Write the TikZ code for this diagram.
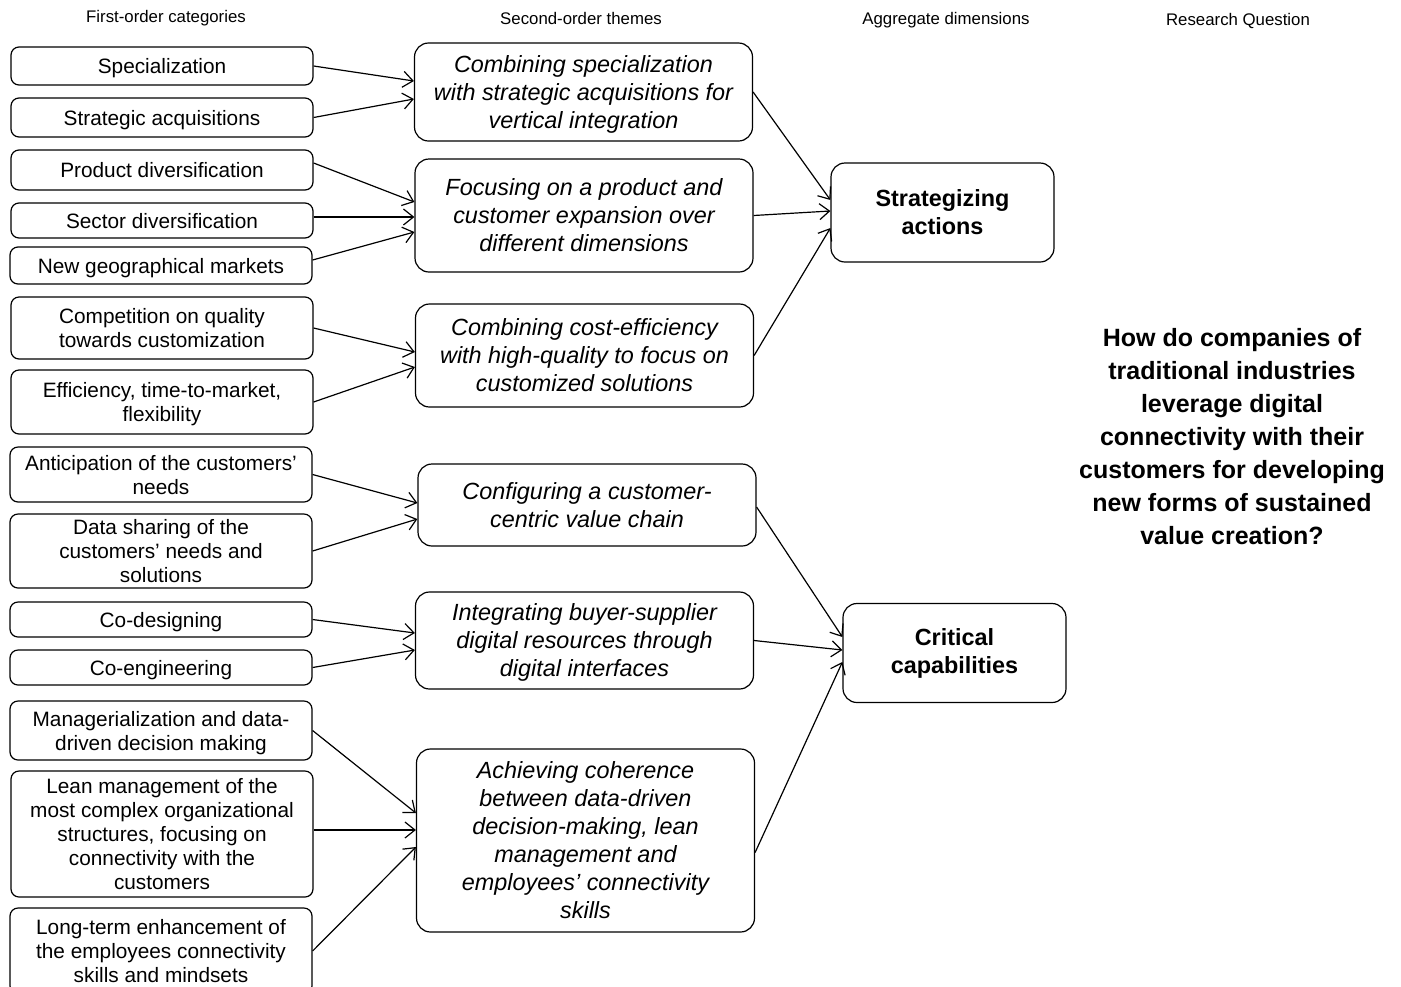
\documentclass[tikz,border=0pt]{standalone}
\usepackage{fontspec}
\setmainfont{Liberation Sans}
\usetikzlibrary{arrows.meta}

\begin{document}
\begin{tikzpicture}[
    x=0.5pt, y=-0.5pt, % one unit = one pixel of the layout, y downwards
    >={Straight Barb[length=5pt,width=8pt]}, % open arrow tips
    line width=0.6pt,
    head/.style={font=\fontsize{8.4}{10}\selectfont}, % column titles
    catbox/.style={draw, rounded corners=4pt, minimum width=151pt, inner sep=0pt, text depth=0pt,
        align=center, font=\fontsize{10.4}{12}\selectfont}, % first-order boxes
    themebox/.style={draw, rounded corners=7pt, minimum width=169pt, inner sep=0pt, text depth=0pt,
        align=center, font=\fontsize{11.7}{14}\selectfont\itshape}, % second-order boxes
    dimbox/.style={draw, rounded corners=7pt, minimum width=111.5pt, minimum height=49.5pt,
        inner sep=0pt, align=center, font=\fontsize{11.7}{14}\selectfont\bfseries}, % dimensions
    question/.style={align=center, font=\fontsize{12.5}{16.5}\selectfont\bfseries}
]

    \useasboundingbox (0,0) rectangle (1401,986);

    % Column titles
    \node[head] (h1) at (166,18) {First-order categories};
    \node[head] (h2) at (581,18) {Second-order themes};
    \node[head] (h3) at (946,20) {Aggregate dimensions};
    \node[head] (h4) at (1238,21) {Research Question};

    % First-order categories
    \node[catbox, minimum height=19pt]   (spec)  at (162,66)    {Specialization};
    \node[catbox, minimum height=19.5pt] (acq)   at (162,117.5) {Strategic acquisitions};
    \node[catbox, minimum height=20pt]   (prod)  at (162,170)   {Product diversification};
    \node[catbox, minimum height=17.5pt] (sect)  at (162,220.5) {Sector diversification};
    \node[catbox, minimum height=18.5pt] (geo)   at (161,265.5) {New geographical markets};
    \node[catbox, minimum height=31pt]   (qual)  at (162,328)   {Competition on quality\\towards customization};
    \node[catbox, minimum height=32pt]   (effi)  at (162,402)   {Efficiency, time-to-market,\\flexibility};
    \node[catbox, minimum height=27.5pt] (anti)  at (161,474.5) {Anticipation of the customers’\\needs};
    \node[catbox, minimum height=37pt]   (share) at (161,551)   {Data sharing of the\\customers’ needs and\\solutions};
    \node[catbox, minimum height=17.5pt] (codes) at (161,619.5) {Co-designing};
    \node[catbox, minimum height=17.5pt] (coeng) at (161,667.5) {Co-engineering};
    \node[catbox, minimum height=29.5pt] (manag) at (161,730.5) {Managerialization and data-\\driven decision making};
    \node[catbox, minimum height=63pt]   (lean)  at (162,834)   {Lean management of the\\most complex organizational\\structures, focusing on\\connectivity with the\\customers};
    \node[catbox, minimum height=43pt]   (longt) at (161,951)   {Long-term enhancement of\\the employees connectivity\\skills and mindsets};

    % Second-order themes
    \node[themebox, minimum height=49pt]   (comb)   at (583.5,92)    {Combining specialization\\with strategic acquisitions for\\vertical integration};
    \node[themebox, minimum height=56.5pt] (focus)  at (584,215.5)   {Focusing on a product and\\customer expansion over\\different dimensions};
    \node[themebox, minimum height=51.5pt] (cost)   at (584.5,355.5) {Combining cost-efficiency\\with high-quality to focus on\\customized solutions};
    \node[themebox, minimum height=41pt]   (config) at (587,505)     {Configuring a customer-\\centric value chain};
    \node[themebox, minimum height=48.5pt] (integ)  at (584.5,640.5) {Integrating buyer-supplier\\digital resources through\\digital interfaces};
    \node[themebox, minimum height=91.5pt] (coher)  at (585.5,840.5) {Achieving coherence\\between data-driven\\decision-making, lean\\management and\\employees’ connectivity\\skills};

    % Aggregate dimensions
    \node[dimbox] (strat) at (942.5,212.5) {Strategizing\\actions};
    \node[dimbox] (crit)  at (954.5,653)   {Critical\\capabilities};

    % Research question
    \node[question] (rq) at (1232,436.5) {How do companies of\\traditional industries\\leverage digital\\connectivity with their\\customers for developing\\new forms of sustained\\value creation?};

    % First-order -> second-order
    \draw[->] (spec.east)  -- ([yshift=5.5pt]comb.west);
    \draw[->] (acq.east)   -- ([yshift=-3.5pt]comb.west);
    \draw[->] ([yshift=3.5pt]prod.east) -- ([yshift=6.75pt]focus.west);
    \draw[->] ([yshift=1.75pt]sect.east) -- ([yshift=-0.75pt]focus.west);
    \draw[->] ([yshift=2.75pt]geo.east) -- ([yshift=-8.25pt]focus.west);
    \draw[->] (qual.east)  -- ([yshift=1.75pt]cost.west);
    \draw[->] (effi.east)  -- ([yshift=-5.75pt]cost.west);
    \draw[->] (anti.east)  -- ([yshift=1pt]config.west);
    \draw[->] (share.east) -- ([yshift=-7pt]config.west);
    \draw[->] (codes.east) -- ([yshift=3.75pt]integ.west);
    \draw[->] (coeng.east) -- ([yshift=-4.75pt]integ.west);
    \draw[->] (manag.east) -- ([yshift=13.75pt]coher.west);
    \draw[->] ([yshift=2pt]lean.east) -- ([yshift=5.25pt]coher.west);
    \draw[->] (longt.east) -- ([yshift=-3.25pt]coher.west);

    % Second-order -> aggregate dimensions
    \draw[->] (comb.east)  -- ([yshift=6.25pt]strat.west);
    \draw[->] (focus.east) -- ([yshift=0.75pt]strat.west);
    \draw[->] (cost.east)  -- ([yshift=-7.75pt]strat.west);
    \draw[->] ([yshift=-1pt]config.east) -- ([yshift=8pt]crit.west);
    \draw[->] (integ.east) -- ([yshift=1.5pt]crit.west);
    \draw[->] ([yshift=-6pt]coher.east) -- ([yshift=-4.5pt]crit.west);

\end{tikzpicture}
\end{document}
